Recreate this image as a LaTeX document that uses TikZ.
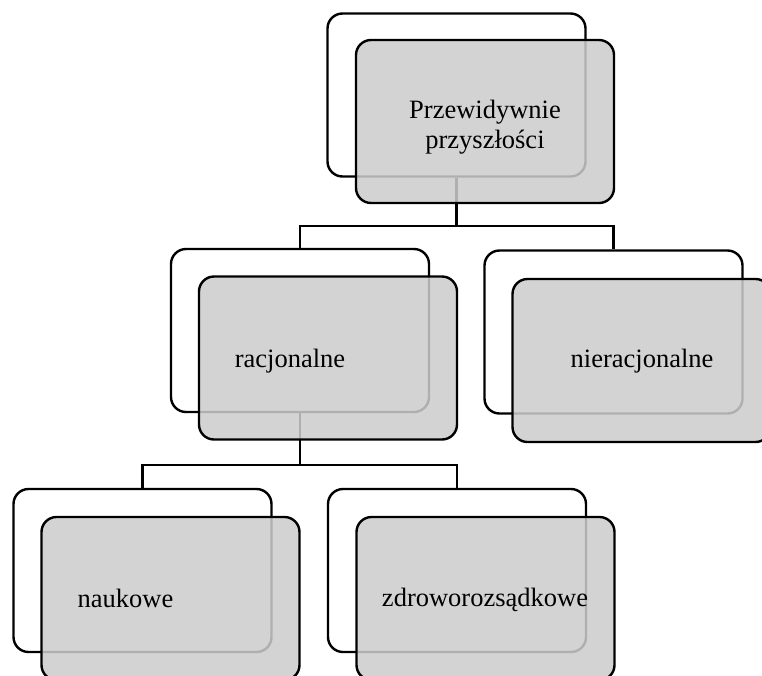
\documentclass[tikz,border=0pt]{standalone}
\usepackage{fontspec}
\setmainfont{Liberation Serif}
\begin{document}
\begin{tikzpicture}[x=1pt,y=-1pt,
  card/.style={draw=black, line width=2.4pt, rounded corners=15pt,
    minimum width=258pt, minimum height=163pt, inner sep=0pt},
  backcard/.style={card},
  frontcard/.style={card, fill=black!20, fill opacity=0.86},
  label/.style={font=\fontsize{26.5}{30}\selectfont, inner sep=0pt, align=center},
  link/.style={line width=2.4pt}]
\useasboundingbox (0,0) rectangle (762,675);
\clip (0,0) rectangle (762,675);

% back cards
\node[backcard] (tb) at (456.5,95) {};
\node[backcard] (rb) at (300,330.5) {};
\node[backcard] (nb) at (613.5,332) {};
\node[backcard] (kb) at (142.5,570.5) {};
\node[backcard] (zb) at (457,570.5) {};

% tree connectors
\coordinate (j1) at (456.5,226);
\coordinate (j2) at (300,465);
\draw[link] (tb.south) -- (j1) -| (rb.north);
\draw[link] (j1) -| (nb.north);
\draw[link] (rb.south) -- (j2) -| (kb.north);
\draw[link] (j2) -| (zb.north);

% front cards
\node[frontcard] (tf) at (485,121.5) {};
\node[frontcard] (rf) at (328,358) {};
\node[frontcard] (nf) at (641.5,360.5) {};
\node[frontcard] (kf) at (170.5,598.5) {};
\node[frontcard] (zf) at (485.5,598.5) {};

% labels
\node[label] (tt) at (485,127) {Przewidywnie\\przyszłości};
\node[label, anchor=base] (rt) at (290,367) {racjonalne};
\node[label, anchor=base] (nt) at (642,367) {nieracjonalne};
\node[label, anchor=base] (kt) at (125.5,607) {naukowe};
\node[label, anchor=base] (zt) at (485,606) {zdroworozsądkowe};
\end{tikzpicture}
\end{document}
